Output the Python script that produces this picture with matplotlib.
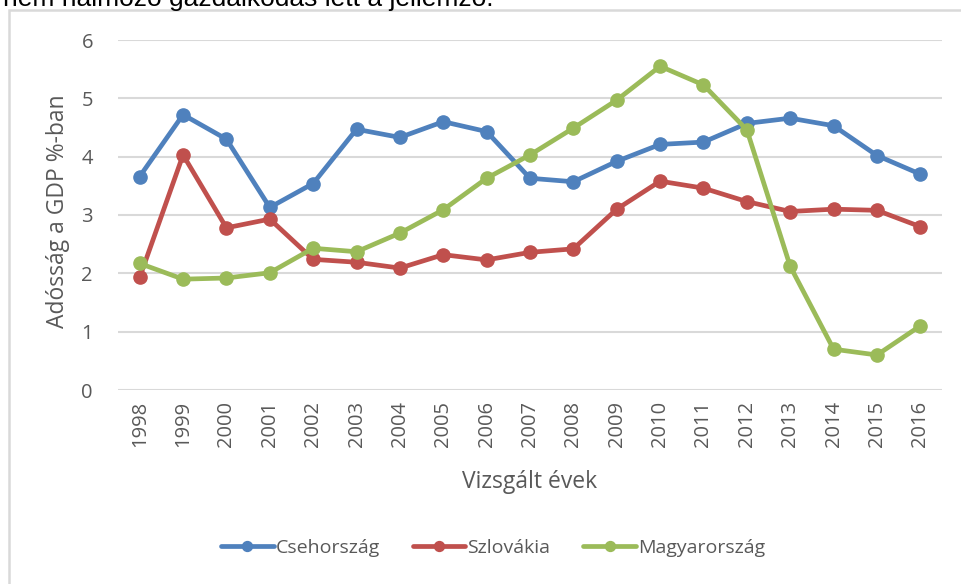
import matplotlib
matplotlib.use("Agg")
import matplotlib.pyplot as plt
from matplotlib.patches import Rectangle

plt.rcParams['font.family'] = ['Open Sans', 'DejaVu Sans']

years = ['1998', '1999', '2000', '2001', '2002', '2003', '2004', '2005', '2006', '2007',
         '2008', '2009', '2010', '2011', '2012', '2013', '2014', '2015', '2016']
cseh = [3.66, 4.72, 4.30, 3.13, 3.54, 4.47, 4.33, 4.60, 4.43, 3.63,
        3.57, 3.92, 4.21, 4.25, 4.57, 4.66, 4.53, 4.02, 3.70]
szlovakia = [1.93, 4.03, 2.78, 2.93, 2.24, 2.19, 2.09, 2.32, 2.23, 2.36,
             2.42, 3.10, 3.58, 3.46, 3.23, 3.06, 3.10, 3.08, 2.80]
magyar = [2.17, 1.90, 1.92, 2.01, 2.43, 2.37, 2.69, 3.09, 3.63, 4.03,
          4.49, 4.97, 5.55, 5.23, 4.46, 2.12, 0.70, 0.60, 1.10]

series = [('Csehország', cseh, '#4F81BD'),
          ('Szlovákia', szlovakia, '#C0504D'),
          ('Magyarország', magyar, '#9BBB59')]

W, H = 962, 584
fig = plt.figure(figsize=(W / 100, H / 100), dpi=100)

# chart frame (cut off at right and bottom like the screenshot)
fig.patches.append(Rectangle((9 / W, -0.1), 1.2, 1 - 10 / H + 0.1,
                             transform=fig.transFigure, fill=False,
                             edgecolor='#d9d9d9', linewidth=1.8))
fig.text(3 / W, 1 - 6 / H, 'nem halmozó gazdálkodás lett a jellemző.',
         family='Liberation Sans', fontsize=19, va='baseline', ha='left')

ax = fig.add_axes([118 / W, 1 - 390 / H, (942 - 118) / W, (390 - 40) / H])
x = list(range(len(years)))
for name, vals, col in series:
    ax.plot(x, vals, color=col, linewidth=3.4, marker='o', markersize=9.5,
            label=name, solid_capstyle='round', solid_joinstyle='round')

ax.set_xlim(-0.5, len(years) - 0.5)
ax.set_ylim(0, 6)
ax.set_yticks(range(0, 7))
ax.set_xticks(x)
ax.set_xticklabels(years, rotation=90)
ax.grid(axis='y', color='#d9d9d9', linewidth=1.5)
ax.set_axisbelow(True)
for s in ax.spines.values():
    s.set_visible(False)
ax.tick_params(axis='both', length=0, labelsize=14.5, labelcolor='#595959')
ax.tick_params(axis='y', pad=18)
ax.tick_params(axis='x', pad=8)

ax.set_xlabel('Vizsgált évek', fontsize=16.5, color='#595959', labelpad=16)
ax.set_ylabel('Adósság a GDP %-ban', fontsize=16.5, color='#595959')
ax.yaxis.set_label_coords(-0.058, 0.51)

leg = fig.legend(loc='center', bbox_to_anchor=(493 / W, 1 - 548 / H), ncol=3,
                 frameon=False, fontsize=14, handlelength=2.7, columnspacing=1.7,
                 handletextpad=0.1, markerscale=0.75, labelcolor='#595959')

fig.savefig('out.png', dpi=100)
